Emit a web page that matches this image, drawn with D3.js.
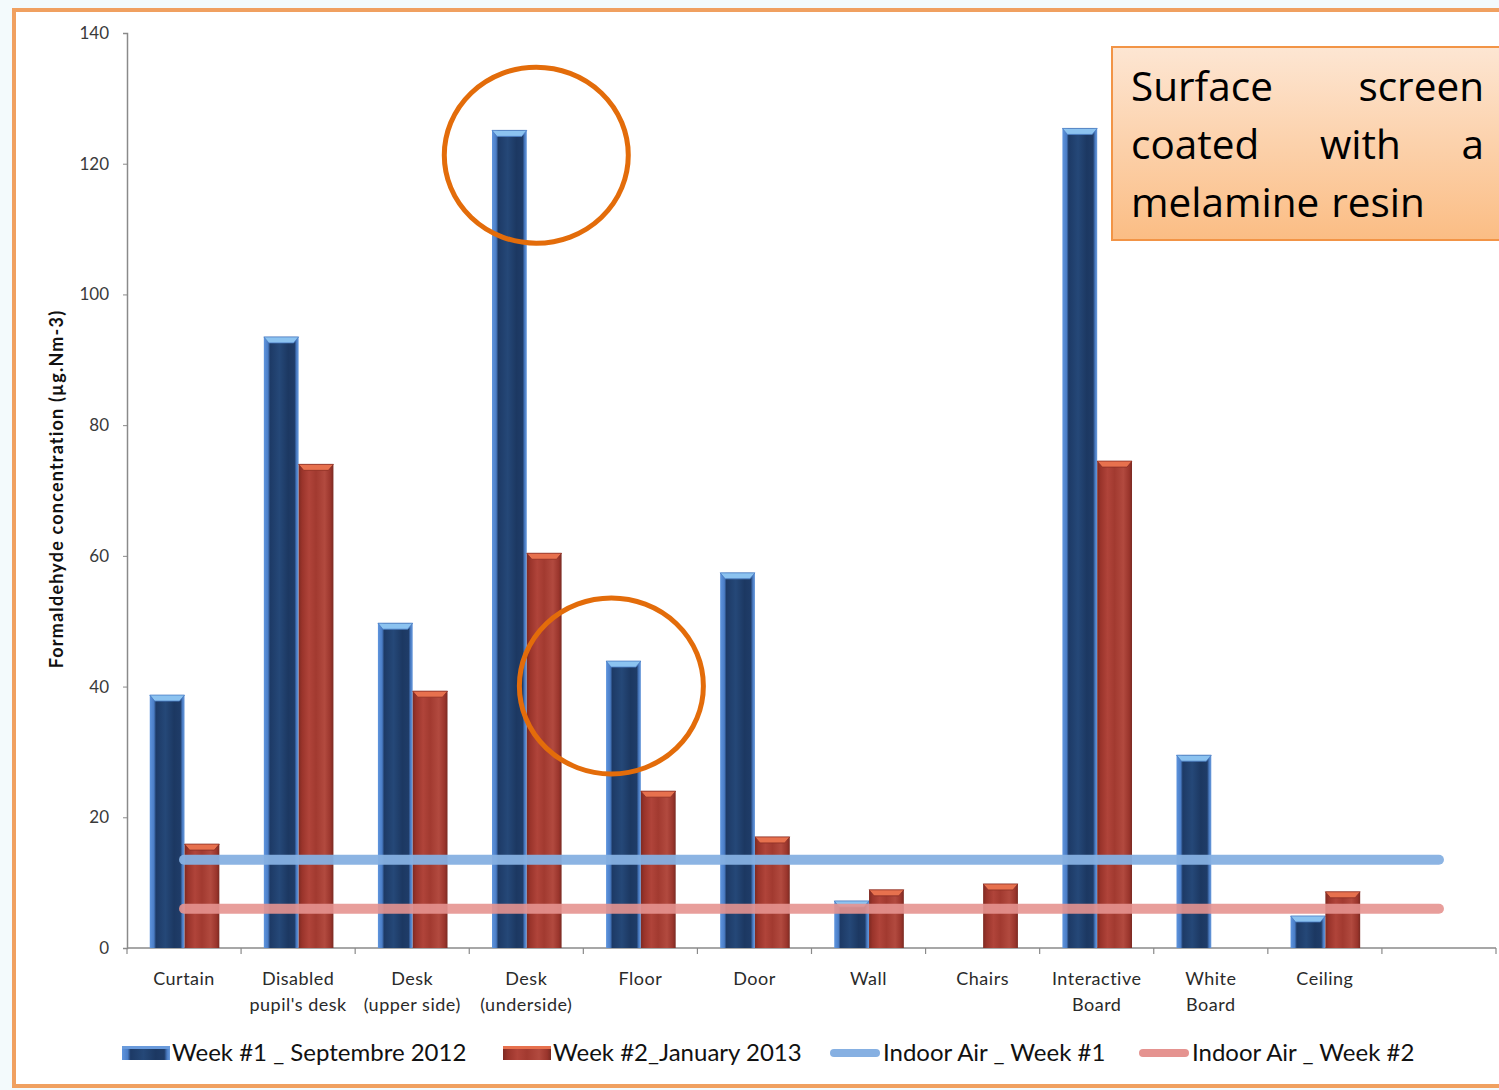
<!DOCTYPE html>
<html>
<head>
<meta charset="utf-8">
<script src="https://cdn.jsdelivr.net/npm/d3@7"></script>
<style>
  html, body { margin: 0; padding: 0; background: #f3fafc; }
  svg { display: block; }
</style>
</head>
<body>
<svg id="chart" width="1499" height="1090"></svg>
<script>
// Formaldehyde emitted by classroom surfaces, two measurement campaigns
const categories = [
  ["Curtain"], ["Disabled", "pupil's desk"], ["Desk", "(upper side)"], ["Desk", "(underside)"],
  ["Floor"], ["Door"], ["Wall"], ["Chairs"], ["Interactive", "Board"], ["White", "Board"], ["Ceiling"], [""]
];
const week1 = [38.7, 93.5, 49.7, 125.1, 43.9, 57.4, 7.2, 0, 125.4, 29.5, 4.9, null];
const week2 = [15.9, 74.0, 39.3, 60.4, 24.0, 17.0, 8.9, 9.8, 74.5, 0, 8.6, null];
const airWeek1 = [13.5, 13.5, 13.5, 13.5, 13.5, 13.5, 13.5, 13.5, 13.5, 13.5, 13.5, 13.5];
const airWeek2 = [6, 6, 6, 6, 6, 6, 6, 6, 6, 6, 6, 6];
const yTicks = [0, 20, 40, 60, 80, 100, 120, 140];
const seriesNames = ["Week #1 _ Septembre 2012", "Week #2_January 2013", "Indoor Air _ Week #1", "Indoor Air _ Week #2"];
const yTitle = "Formaldehyde concentration (µg.Nm-3)";
const noteLines = [["Surface", "screen"], ["coated", "with", "a"], ["melamine", "resin"]];

const svg = d3.select("#chart");
const defs = svg.append("defs");
const font = "Lato, 'Open Sans', sans-serif";

// bar shading gradients
function hGrad(id, stops) {
  const g = defs.append("linearGradient").attr("id", id).attr("x1", 0).attr("x2", 1).attr("y1", 0).attr("y2", 0);
  stops.forEach(s => g.append("stop").attr("offset", s[0]).attr("stop-color", s[1]));
}
hGrad("gBlue", [[0, "#5f95de"], [0.12, "#4a7dc6"], [0.18, "#1d3a66"], [0.45, "#254878"], [0.7, "#1c3862"], [0.88, "#1f3c68"], [0.94, "#4a7cc4"], [1, "#6a9bdc"]]);
hGrad("gRed", [[0, "#7e2a22"], [0.1, "#9a342b"], [0.3, "#b0443a"], [0.5, "#a23a30"], [0.75, "#b24a3f"], [0.92, "#9a352c"], [1, "#7a2a22"]]);
const noteGrad = defs.append("linearGradient").attr("id", "gNote").attr("x1", 0).attr("x2", 0).attr("y1", 0).attr("y2", 1);
noteGrad.append("stop").attr("offset", 0).attr("stop-color", "#fde6d3");
noteGrad.append("stop").attr("offset", 1).attr("stop-color", "#fbbd84");

// outer frame
svg.append("rect").attr("x", 14).attr("y", 10).attr("width", 1495).attr("height", 1076)
  .attr("fill", "#ffffff").attr("stroke", "#f0a060").attr("stroke-width", 4);

const x = d3.scaleBand().domain(d3.range(categories.length)).range([127, 1496]);
const y = d3.scaleLinear().domain([0, 140]).range([948, 33]);
const groupW = x.bandwidth() * 0.61;
const xs = d3.scaleBand().domain([0, 1]).range([0, groupW]);
const off = (x.bandwidth() - groupW) / 2 + 0.5;

// y axis
const yAxis = svg.append("g").attr("transform", "translate(127,0)")
  .call(d3.axisLeft(y).tickValues(yTicks).tickSize(4).tickPadding(14));
yAxis.select(".domain").attr("stroke", "#8a8a8a").attr("stroke-width", 1.5);
yAxis.selectAll(".tick line").attr("stroke", "#8a8a8a");
yAxis.selectAll(".tick text").attr("font-family", font).attr("font-size", 17).attr("fill", "#3a3a3a");

// x axis with ticks at category boundaries
svg.append("line").attr("x1", 127).attr("x2", 1496).attr("y1", 948).attr("y2", 948)
  .attr("stroke", "#8a8a8a").attr("stroke-width", 1.5);
svg.selectAll(".xtick").data(d3.range(categories.length + 1)).join("line")
  .attr("x1", i => i < categories.length ? x(i) : x.range()[1])
  .attr("x2", i => i < categories.length ? x(i) : x.range()[1])
  .attr("y1", 948).attr("y2", 954).attr("stroke", "#8a8a8a").attr("stroke-width", 1.2);

const labels = svg.selectAll(".xl").data(categories).join("text")
  .attr("font-family", font).attr("font-size", 18).attr("fill", "#2a2a2a")
  .attr("text-anchor", "middle").attr("letter-spacing", 0.5);
labels.each(function (d, i) {
  const t = d3.select(this);
  d.forEach((line, k) => t.append("tspan").attr("x", x(i) + x.bandwidth() / 2).attr("y", 985 + k * 26).text(line));
});

// y title
svg.append("text").attr("transform", "translate(63,489) rotate(-90)")
  .attr("text-anchor", "middle").attr("font-family", font).attr("font-weight", "bold")
  .attr("font-size", 18).attr("letter-spacing", 1.2).attr("fill", "#111").text(yTitle);

// bars
function drawBars(values, s, grad, capColor, capEdge) {
  const g = svg.append("g");
  const data = values.map((v, i) => ({ v, i })).filter(d => d.v);
  const bw = xs.bandwidth();
  const bx = d => x(d.i) + off + xs(s);
  g.selectAll("rect").data(data).join("rect")
    .attr("x", bx).attr("width", bw)
    .attr("y", d => y(d.v)).attr("height", d => y(0) - y(d.v))
    .attr("fill", `url(#${grad})`);
  g.selectAll("path").data(data).join("path")
    .attr("d", d => {
      const x0 = bx(d), y0 = y(d.v);
      return `M${x0},${y0}H${x0 + bw}L${x0 + bw - 5},${y0 + 6}H${x0 + 5}Z`;
    })
    .attr("fill", capColor).attr("stroke", capEdge).attr("stroke-width", 0.8);
}
drawBars(week1, 0, "gBlue", "#8cc3f0", "#4a7cc4");
drawBars(week2, 1, "gRed", "#e7714e", "#8a2e25");

// indoor air reference lines
const line = d3.line().x((d, i) => x(i) + x.bandwidth() / 2).y(d => y(d));
svg.append("path").datum(airWeek1).attr("d", line).attr("fill", "none")
  .attr("stroke", "#86b0e2").attr("stroke-width", 10).attr("stroke-linecap", "round").attr("opacity", 0.95);
svg.append("path").datum(airWeek2).attr("d", line).attr("fill", "none")
  .attr("stroke", "#e59390").attr("stroke-width", 10).attr("stroke-linecap", "round").attr("opacity", 0.9);

// highlight circles
svg.append("ellipse").attr("cx", x(3) + x.bandwidth() / 2 + 10).attr("cy", y(121.3)).attr("rx", 92).attr("ry", 88)
  .attr("fill", "none").attr("stroke", "#e36c0a").attr("stroke-width", 5);
svg.append("ellipse").attr("cx", x(4) + x.bandwidth() / 2 - 29).attr("cy", y(40.1)).attr("rx", 92).attr("ry", 88)
  .attr("fill", "none").attr("stroke", "#e36c0a").attr("stroke-width", 5);

// note box
svg.append("rect").attr("x", 1112).attr("y", 47).attr("width", 400).attr("height", 193)
  .attr("fill", "url(#gNote)").attr("stroke", "#f29446").attr("stroke-width", 2);
const noteLeft = 1131, noteRight = 1484;
noteLines.forEach((words, li) => {
  const yy = 101 + li * 58;
  const justify = li < noteLines.length - 1;
  const nodes = words.map(w => svg.append("text").attr("font-family", "'Open Sans', sans-serif")
    .attr("font-size", 40.5).attr("fill", "#000").attr("y", yy).text(w));
  const widths = nodes.map(n => n.node().getComputedTextLength());
  const gap = justify ? (noteRight - noteLeft - d3.sum(widths)) / (words.length - 1) : 12;
  let cx = noteLeft;
  nodes.forEach((n, k) => { n.attr("x", cx); cx += widths[k] + gap; });
});

// legend
const lg = svg.append("g").attr("font-family", font).attr("font-size", 24).attr("fill", "#111");
const legendItems = [
  { x: 122, type: "bar", fill: "url(#gBlue)", cap: "#6a9bdc" },
  { x: 503, type: "bar", fill: "url(#gRed)", cap: "#e7714e" },
  { x: 834, type: "line", color: "#86b0e2" },
  { x: 1143, type: "line", color: "#e59390" }
];
legendItems.forEach((it, i) => {
  if (it.type === "bar") {
    lg.append("rect").attr("x", it.x).attr("y", 1046).attr("width", 48).attr("height", 14).attr("fill", it.fill);
    lg.append("rect").attr("x", it.x).attr("y", 1046).attr("width", 48).attr("height", 3).attr("fill", it.cap);
  } else {
    lg.append("line").attr("x1", it.x).attr("x2", it.x + 42).attr("y1", 1053).attr("y2", 1053)
      .attr("stroke", it.color).attr("stroke-width", 8).attr("stroke-linecap", "round");
  }
  lg.append("text").attr("x", it.x + (it.type === "bar" ? 50 : 49)).attr("y", 1061).text(seriesNames[i]);
});
</script>
</body>
</html>
